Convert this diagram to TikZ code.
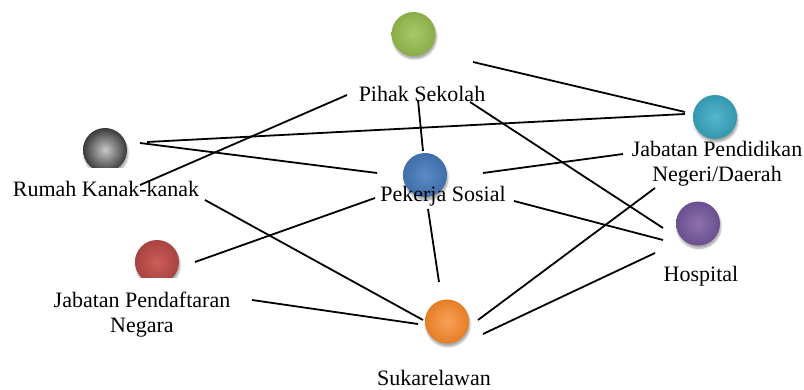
\documentclass[tikz,border=0pt]{standalone}
\usepackage{fontspec}
\setmainfont{Liberation Serif}
\usetikzlibrary{shadows.blur}
\definecolor{cGreenI}{HTML}{A9C96A}
\definecolor{cGreenO}{HTML}{8AAD47}
\definecolor{cGrayI}{HTML}{C8C8C8}
\definecolor{cGrayO}{HTML}{3A3A3A}
\definecolor{cBlueI}{HTML}{5B8CC8}
\definecolor{cBlueO}{HTML}{3F6EA8}
\definecolor{cTealI}{HTML}{55B6CE}
\definecolor{cTealO}{HTML}{3497B0}
\definecolor{cRedI}{HTML}{CC5C59}
\definecolor{cRedO}{HTML}{A84340}
\definecolor{cOrangeI}{HTML}{F9A15A}
\definecolor{cOrangeO}{HTML}{E57E25}
\definecolor{cPurpleI}{HTML}{8C70AE}
\definecolor{cPurpleO}{HTML}{6B5090}
\begin{document}
\begin{tikzpicture}[x=1pt,y=-1pt,
  ball/.style 2 args={circle, minimum size=44pt, inner sep=0pt,
    inner color=#1, outer color=#2,
    blur shadow={shadow xshift=1pt, shadow yshift=-3pt, shadow blur steps=6, shadow opacity=35}},
  lbl/.style={font=\fontsize{22}{25}\selectfont, inner sep=0pt, anchor=base, align=center},
  conn/.style={line width=1.8pt}]
\useasboundingbox (0,0) rectangle (804,390);
% connector end points
\coordinate (a1) at (347,95);  \coordinate (a2) at (140,185);
\coordinate (b1) at (147,142); \coordinate (b2) at (685,114);
\coordinate (c1) at (140,143); \coordinate (c2) at (377,173);
\coordinate (d1) at (418,100); \coordinate (d2) at (423,151);
\coordinate (e1) at (205,200); \coordinate (e2) at (423,320);
\coordinate (f1) at (375,198); \coordinate (f2) at (195,262);
\coordinate (g1) at (252,300); \coordinate (g2) at (418,324);
\coordinate (h1) at (428,209); \coordinate (h2) at (439,282);
\coordinate (i1) at (473,62);  \coordinate (i2) at (685,112);
\coordinate (j1) at (470,102); \coordinate (j2) at (663,228);
\coordinate (k1) at (483,173); \coordinate (k2) at (623,154);
\coordinate (l1) at (514,201); \coordinate (l2) at (663,240);
\coordinate (m1) at (655,188); \coordinate (m2) at (478,320);
\coordinate (n1) at (655,253); \coordinate (n2) at (483,334);
\foreach \p in {a,b,c,d,e,f,g,h,i,j,k,l,m,n}
  \draw[conn] (\p1) -- (\p2);
% circles
\node[ball={cGreenI}{cGreenO}] (sekolah) at (413.5,34) {};
\begin{scope}
  \clip (60,100) rectangle (160,168);
  \node[ball={cGrayI}{cGrayO}] (rumah) at (105,150) {};
\end{scope}
\node[ball={cBlueI}{cBlueO}] (pekerja) at (425,175) {};
\node[ball={cTealI}{cTealO}] (jpn) at (715,117) {};
\begin{scope}
  \clip (110,220) rectangle (210,278);
  \node[ball={cRedI}{cRedO}] (jpnegara) at (157,262) {};
\end{scope}
\node[ball={cOrangeI}{cOrangeO}] (sukarela) at (447,321.5) {};
\node[ball={cPurpleI}{cPurpleO}] (hospital) at (698,223.5) {};
% labels
\node[lbl] (tsekolah) at (422,102) {Pihak Sekolah};
\node[lbl] (trumah) at (106,197) {Rumah Kanak-kanak};
\node[lbl] (tpekerja) at (443,202) {Pekerja Sosial};
\node[lbl] (tjpn) at (717,182) {Jabatan Pendidikan\\Negeri/Daerah};
\node[lbl] (tjpnegara) at (142,333) {Jabatan Pendaftaran\\Negara};
\node[lbl] (tsukarela) at (434,385) {Sukarelawan};
\node[lbl] (thospital) at (701,282) {Hospital};
\end{tikzpicture}
\end{document}
